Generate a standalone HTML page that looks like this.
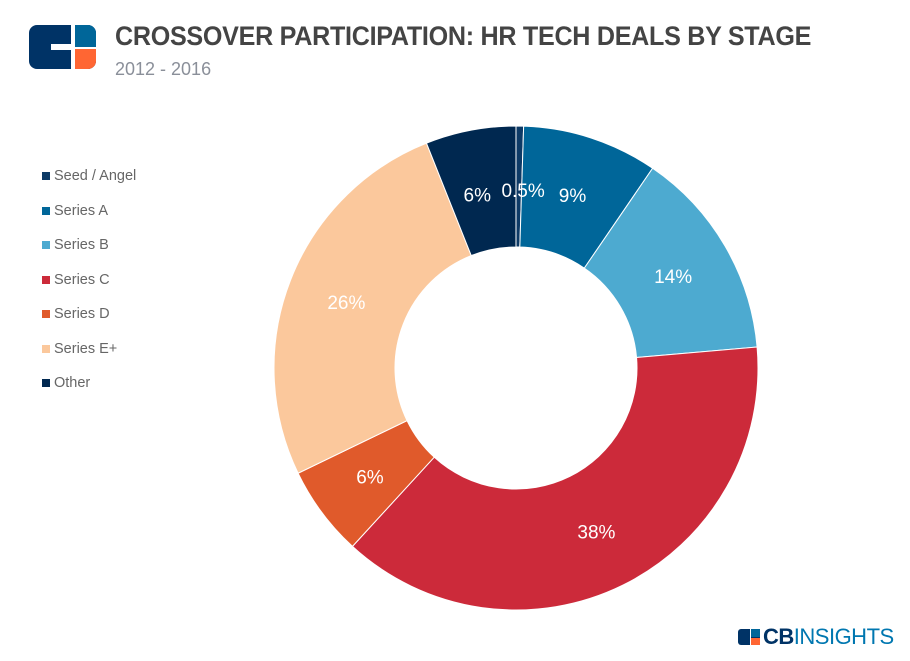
<!DOCTYPE html>
<html><head><meta charset="utf-8"><style>
body{margin:0;width:910px;height:661px;background:#fff;font-family:"Liberation Sans",sans-serif;overflow:hidden;position:relative}
.t{position:absolute;left:115px;top:21px;font-size:27px;font-weight:bold;color:#444;letter-spacing:-0.3px;transform:scaleX(0.93);transform-origin:left}
.s{position:absolute;left:115px;top:59px;font-size:18px;color:#8a8f99}
.lg{position:absolute;left:42px;font-size:14.5px;color:#666;line-height:16px}
.lg span{display:inline-block;width:8px;height:8px;margin-right:4px;vertical-align:0px}
</style></head><body>
<svg style="position:absolute;left:29px;top:25px" width="67" height="44">
<defs><clipPath id="cp"><rect x="0" y="0" width="67" height="44" rx="8"/></clipPath></defs>
<g clip-path="url(#cp)">
<rect x="0" y="0" width="67" height="44" fill="#003366"/>
<rect x="42" y="0" width="4" height="44" fill="#fff"/>
<rect x="46" y="0" width="21" height="22" fill="#006699"/>
<rect x="46" y="24" width="21" height="20" fill="#ff6633"/>
<rect x="46" y="22" width="21" height="2" fill="#fff"/>
<rect x="22" y="19" width="20" height="6" fill="#fff"/>
</g>
</svg>
<div class="t">CROSSOVER PARTICIPATION: HR TECH DEALS BY STAGE</div>
<div class="s">2012 - 2016</div>
<div id="legend"></div>
<svg id="chart" width="910" height="661" style="position:absolute;left:0;top:0"></svg>
<div style="position:absolute;left:738px;top:624px;font-size:22px;color:#0077b0;letter-spacing:-0.5px">
<span style="display:inline-block;width:22px;height:16px;background:#003366;border-radius:3px;position:relative;vertical-align:-1px;margin-right:3px"><span style="position:absolute;left:13px;top:0;width:9px;height:8px;background:#006699"></span><span style="position:absolute;left:13px;top:9px;width:9px;height:7px;background:#ff6633"></span><span style="position:absolute;left:12px;top:0;width:1px;height:16px;background:#fff"></span></span><b style="color:#003366">CB</b>INSIGHTS</div>
<script>
const categories=["Seed / Angel","Series A","Series B","Series C","Series D","Series E+","Other"];
const values=[0.5,9,14,38,6,26,6];
const labels=["0.5%","9%","14%","38%","6%","26%","6%"];
const colors=["#0d3a66","#006699","#4daad0","#cc2a3a","#e05a2b","#fbc89c","#002850"];
const cx=516,cy=368,R=242,r=121;
const svg=document.getElementById('chart');
const NS="http://www.w3.org/2000/svg";
const total=values.reduce((a,b)=>a+b,0);
function ang(v){return v/total*2*Math.PI;}
function pt(a,rad){return [cx+rad*Math.sin(a),cy-rad*Math.cos(a)];}
let acc=0;
const labelPos=[];
values.forEach((v,i)=>{
 const a0=ang(acc),a1=ang(acc+v);acc+=v;
 const [x0,y0]=pt(a0,R),[x1,y1]=pt(a1,R),[x2,y2]=pt(a1,r),[x3,y3]=pt(a0,r);
 const lg=(a1-a0)>Math.PI?1:0;
 const p=document.createElementNS(NS,'path');
 p.setAttribute('d',`M${x0} ${y0}A${R} ${R} 0 ${lg} 1 ${x1} ${y1}L${x2} ${y2}A${r} ${r} 0 ${lg} 0 ${x3} ${y3}Z`);
 p.setAttribute('fill',colors[i]);p.setAttribute('stroke','#fff');p.setAttribute('stroke-width','1');
 
 
 svg.appendChild(p);
 let am=(a0+a1)/2,rr=182;
 if(i===0){am=a0+0.04;rr=178;}
 if(i===6){am=am-0.03;rr=178;}
 labelPos.push(pt(am,rr));
});
labelPos.forEach(([lx,ly],i)=>{
 const t=document.createElementNS(NS,'text');
 t.setAttribute('x',lx);t.setAttribute('y',ly+7);t.setAttribute('text-anchor','middle');
 t.setAttribute('font-size','19');t.setAttribute('fill','#fff');t.setAttribute('font-family','Liberation Sans, sans-serif');
 t.textContent=labels[i];
 
 
 svg.appendChild(t);
});
const leg=document.getElementById('legend');
categories.forEach((c,i)=>{
 const d=document.createElement('div');d.className='lg';d.style.top=(168+i*34.5)+'px';
 d.innerHTML='<span style="background:'+colors[i]+'"></span>'+c;
 
 
 leg.appendChild(d);
});
</script>
</body></html>
